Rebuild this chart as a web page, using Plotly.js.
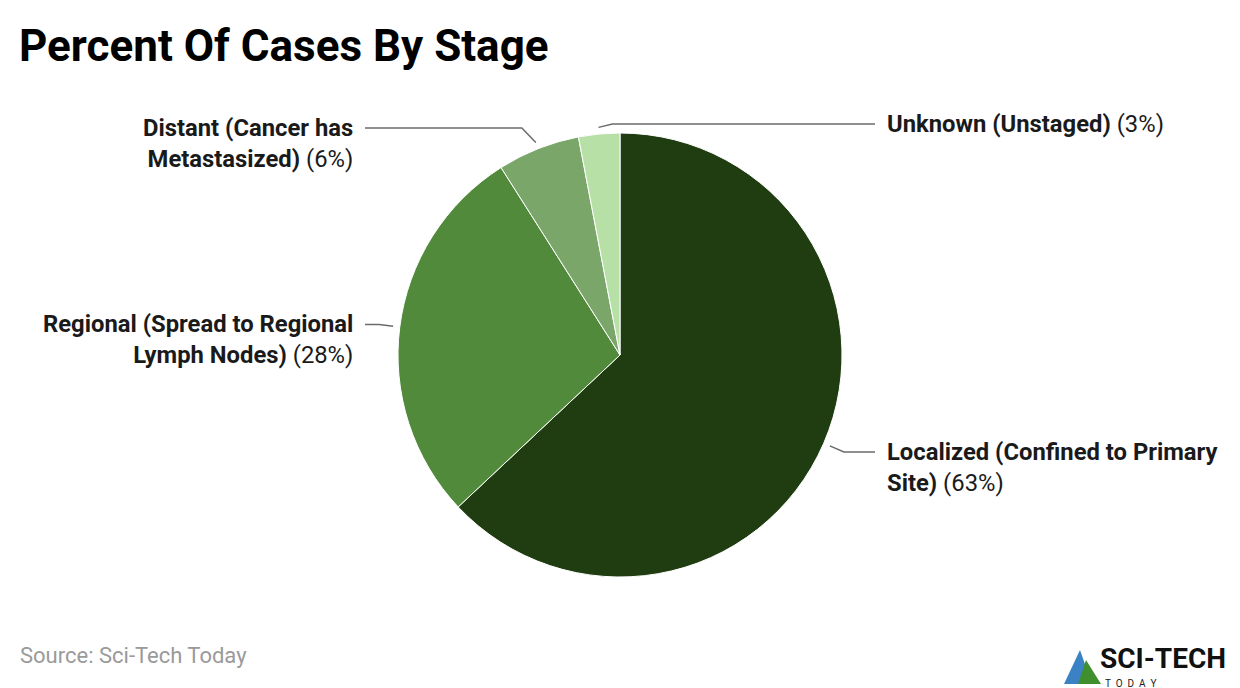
<!DOCTYPE html>
<html>
<head>
<meta charset="utf-8">
<script src="https://cdn.plot.ly/plotly-3.0.1.min.js"></script>
<style>
  html, body { margin: 0; padding: 0; background: #ffffff; }
  #myDiv { width: 1240px; height: 688px; }
</style>
</head>
<body>
<div id="myDiv"></div>
<script>
// Datos del gráfico
const stages = ['Localized', 'Regional', 'Distant', 'Unknown'];
const labelLines = [
    ['Localized (Confined to Primary', 'Site)'],
    ['Regional (Spread to Regional', 'Lymph Nodes)'],
    ['Distant (Cancer has', 'Metastasized)'],
    ['Unknown (Unstaged)']
];
const percents = [63, 28, 6, 3];
const colors = ['#1f3d11', '#518a3a', '#7ba66a', '#b7e0a6'];

// Geometría en píxeles
const W = 1240, H = 688;
const cx = 620, cy = 355, R = 222;
const leftX = 353, rightX = 887;
const topLimit = 124; // las etiquetas no suben más allá de esta línea

const px = v => v / W;
const py = v => 1 - v / H;

let pieTrace = {
    type: 'pie',
    labels: stages,
    values: percents,
    sort: false,
    direction: 'clockwise',
    rotation: 0,
    textinfo: 'none',
    hoverinfo: 'none',
    showlegend: false,
    marker: { colors: colors, line: { color: '#ffffff', width: 1 } },
    domain: { x: [px(cx - R), px(cx + R)], y: [py(cy + R), py(cy - R)] }
};

let annotations = [];
let shapes = [];
let total = percents.reduce((a, b) => a + b, 0);
let acc = 0;

percents.forEach((p, i) => {
    let mid = (acc + p / 2) / total * 2 * Math.PI;
    acc += p;
    let sx = cx + R * 1.03 * Math.sin(mid);
    let sy = cy - R * 1.03 * Math.cos(mid);
    let ly = Math.max(topLimit, cy - R * 1.1 * Math.cos(mid));
    let right = Math.sin(mid) >= 0 || i === percents.length - 1;
    let dir = right ? 1 : -1;
    let ex = sx + dir * 14;
    let endX = right ? rightX - 12 : leftX + 12;

    shapes.push({
        type: 'path',
        xref: 'paper', yref: 'paper',
        path: 'M ' + px(sx) + ' ' + py(sy) + ' L ' + px(ex) + ' ' + py(ly) + ' L ' + px(endX) + ' ' + py(ly),
        line: { color: '#6b6b6b', width: 1.5 }
    });

    let lines = labelLines[i].map(l => '<b>' + l + '</b>');
    lines[lines.length - 1] += ' (' + p + '%)';
    annotations.push({
        xref: 'paper', yref: 'paper',
        x: px(right ? rightX - 2 : leftX + 2),
        y: py(ly - 16),
        xanchor: right ? 'left' : 'right',
        yanchor: 'top',
        align: right ? 'left' : 'right',
        showarrow: false,
        text: lines.join('<br>'),
        font: { family: 'Roboto', size: 23.8, color: '#1a1a1a' }
    });
});

// Fuente y logo
annotations.push({
    xref: 'paper', yref: 'paper', x: px(18), y: py(655),
    xanchor: 'left', yanchor: 'middle', showarrow: false,
    text: 'Source: Sci-Tech Today',
    font: { family: 'Roboto', size: 22, color: '#9a9a9a' }
});
annotations.push({
    xref: 'paper', yref: 'paper', x: px(1098), y: py(658),
    xanchor: 'left', yanchor: 'middle', showarrow: false,
    text: '<b>SCI-TECH</b>',
    font: { family: 'Roboto', size: 28, color: '#111111' }
});
annotations.push({
    xref: 'paper', yref: 'paper', x: px(1103), y: py(683),
    xanchor: 'left', yanchor: 'middle', showarrow: false,
    text: 'T  O  D  A  Y',
    font: { family: 'Roboto', size: 10, color: '#222222' }
});
shapes.push({
    type: 'path', xref: 'paper', yref: 'paper',
    path: 'M ' + px(1064) + ' ' + py(684) + ' L ' + px(1080) + ' ' + py(650) + ' L ' + px(1092) + ' ' + py(684) + ' Z',
    fillcolor: '#3b82c4', line: { width: 0 }
});
shapes.push({
    type: 'path', xref: 'paper', yref: 'paper',
    path: 'M ' + px(1078) + ' ' + py(684) + ' L ' + px(1086) + ' ' + py(660) + ' L ' + px(1101) + ' ' + py(684) + ' Z',
    fillcolor: '#3f8f2f', line: { width: 0 }
});

let layout = {
    width: W, height: H,
    margin: { l: 0, r: 0, t: 0, b: 0 },
    paper_bgcolor: '#ffffff',
    title: {
        text: '<b>Percent Of Cases By Stage</b>',
        x: px(19), xanchor: 'left',
        y: py(46), yanchor: 'middle',
        font: { family: 'Roboto', size: 44, color: '#000000' }
    },
    annotations: annotations,
    shapes: shapes,
    showlegend: false
};

Plotly.newPlot('myDiv', [pieTrace], layout, { displayModeBar: false, staticPlot: true });
</script>
</body>
</html>
